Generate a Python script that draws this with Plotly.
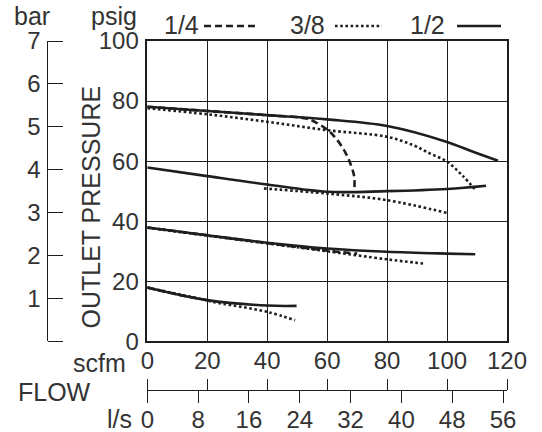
import plotly.graph_objects as go

# ---- data (scfm -> psig) ----
# 1/2 (solid)
half_80_x = [0, 20, 40, 60, 80, 100, 108.7, 117]
half_80_y = [78.1, 76.7, 75.3, 73.9, 71.7, 66.4, 63.1, 60.1]
half_60_x = [0, 20, 40, 60, 80, 100, 113]
half_60_y = [57.9, 55.0, 52.2, 49.8, 50.0, 50.7, 51.8]
half_40_x = [0, 20, 40, 60, 80, 100, 109.4]
half_40_y = [37.9, 35.3, 32.8, 30.9, 29.8, 29.2, 29.0]
half_20_x = [0, 20, 40, 49.8]
half_20_y = [17.9, 13.7, 11.9, 11.8]

# 3/8 (dotted)
three8_80_x = [0, 20, 40, 60, 80, 88.7, 94.2, 100, 105.3, 109.8]
three8_80_y = [77.6, 75.6, 73.1, 70.3, 68.1, 65.3, 62.6, 59.8, 55.0, 50.0]
three8_60_x = [38.9, 60, 80, 99.8]
three8_60_y = [50.9, 49.2, 47.0, 42.8]
three8_40_x = [0, 20, 40, 57.6, 80, 92]
three8_40_y = [37.8, 35.2, 32.6, 30.3, 27.3, 25.9]
three8_20_x = [0, 20, 22, 40, 49.3]
three8_20_y = [17.9, 13.6, 13.1, 9.8, 7.0]

# 1/4 (dashed)
quarter_80_x = [0, 20, 40, 53, 56, 60, 63, 66, 68, 69, 69.1]
quarter_80_y = [78.1, 76.7, 75.3, 74.2, 73.0, 70.5, 67.5, 63.0, 58.5, 55.0, 51.0]
quarter_40_x = [0, 20, 40, 60, 70]
quarter_40_y = [37.9, 35.3, 32.7, 30.2, 29.2]
quarter_20_x = [0, 10, 20]
quarter_20_y = [17.9, 15.6, 13.7]

scfm_ticks = [0, 20, 40, 60, 80, 100, 120]
psig_ticks = [0, 20, 40, 60, 80, 100]
lps_ticks = [0, 8, 16, 24, 32, 40, 48, 56]
bar_ticks = [0, 1, 2, 3, 4, 5, 6, 7]
bar_labels = ["", "1", "2", "3", "4", "5", "6", "7"]
SCFM_TO_LPS = 0.4719
PSIG_MAX = 100
SCFM_MAX = 120
BAR_MAX = 7

# ---- layout geometry (pixels) ----
W, H = 542, 432
ML, MR, MT, MB = 20, 35, 41, 20
PW = W - ML - MR
PH = H - MT - MB


def px(x):
    return (x - ML) / PW


def py(y):
    return (H - MB - y) / PH


FONT = "Liberation Sans, Arial, sans-serif"
TXT = "#333333"
LINE = "#1e1e1e"
FS = 24
FS_T = 25

fig = go.Figure()

styles = {
    "quarter": dict(color=LINE, width=2.6, dash="7px,4px"),
    "three8": dict(color=LINE, width=2.6, dash="2.6px,2.6px"),
    "half": dict(color=LINE, width=2.6),
}

series = [
    ("quarter", quarter_80_x, quarter_80_y),
    ("quarter", quarter_40_x, quarter_40_y),
    ("quarter", quarter_20_x, quarter_20_y),
    ("three8", three8_80_x, three8_80_y),
    ("three8", three8_60_x, three8_60_y),
    ("three8", three8_40_x, three8_40_y),
    ("three8", three8_20_x, three8_20_y),
    ("half", half_80_x, half_80_y),
    ("half", half_60_x, half_60_y),
    ("half", half_40_x, half_40_y),
    ("half", half_20_x, half_20_y),
]
for kind, xs, ys in series:
    fig.add_trace(go.Scatter(x=xs, y=ys, mode="lines", line=styles[kind],
                             line_shape="spline", hoverinfo="skip", showlegend=False))

# helper traces for the extra axes
fig.add_trace(go.Scatter(x=[0, SCFM_MAX], y=[None, None], xaxis="x2", yaxis="y",
                         mode="lines", showlegend=False, hoverinfo="skip"))
fig.add_trace(go.Scatter(x=[0, SCFM_MAX * SCFM_TO_LPS], y=[None, None], xaxis="x3", yaxis="y",
                         mode="lines", showlegend=False, hoverinfo="skip"))
fig.add_trace(go.Scatter(x=[None, None], y=[0, BAR_MAX], xaxis="x", yaxis="y2",
                         mode="lines", showlegend=False, hoverinfo="skip"))
fig.add_trace(go.Scatter(x=[None, None], y=[0, BAR_MAX], xaxis="x", yaxis="y3",
                         mode="lines", showlegend=False, hoverinfo="skip"))

xdom = [px(147.3), 1.0]
ydom = [py(341.3), 1.0]
bottom_pos = py(390)
bar_pos = px(46.7)

tickfont = dict(family=FONT, size=FS, color=TXT)

fig.update_layout(
    width=W, height=H,
    margin=dict(l=ML, r=MR, t=MT, b=MB, autoexpand=False),
    paper_bgcolor="white", plot_bgcolor="white",
    showlegend=False,
    font=dict(family=FONT, size=FS, color=TXT),
    xaxis=dict(domain=xdom, range=[0, SCFM_MAX], tickvals=scfm_ticks, showticklabels=False,
               ticks="", showgrid=True, gridcolor=LINE, gridwidth=1.2, zeroline=False,
               showline=True, mirror=True, linecolor=LINE, linewidth=1.5, anchor="y",
               automargin=False, fixedrange=True),
    yaxis=dict(domain=ydom, range=[0, PSIG_MAX], tickvals=psig_ticks, ticks="",
               showgrid=True, gridcolor=LINE, gridwidth=1.2, zeroline=False,
               showline=True, mirror=True, linecolor=LINE, linewidth=1.5, anchor="x",
               tickfont=tickfont, ticklabelstandoff=2, automargin=False, fixedrange=True),
    xaxis2=dict(overlaying="x", anchor="free", position=bottom_pos, side="top",
                range=[0, SCFM_MAX], tickvals=scfm_ticks, ticks="outside", ticklen=11,
                tickwidth=1.3, tickcolor=LINE, showline=True, linecolor=LINE, linewidth=1.3,
                showgrid=False, zeroline=False, tickfont=tickfont, automargin=False),
    xaxis3=dict(overlaying="x", anchor="free", position=bottom_pos, side="bottom",
                range=[0, SCFM_MAX * SCFM_TO_LPS], tickvals=lps_ticks, ticks="outside",
                ticklen=12, tickwidth=1.3, tickcolor=LINE, showline=True, linecolor=LINE,
                linewidth=1.3, showgrid=False, zeroline=False, tickfont=tickfont,
                ticklabelstandoff=-4, automargin=False),
    # bar scale: ticks pointing right
    yaxis2=dict(overlaying="y", anchor="free", position=bar_pos, side="right",
                range=[0, BAR_MAX], tickvals=bar_ticks, showticklabels=False, ticks="outside",
                ticklen=15, tickwidth=1.3, tickcolor=LINE, showline=True, linecolor=LINE,
                linewidth=1.3, showgrid=False, zeroline=False, automargin=False),
    # bar scale: labels on the left
    yaxis3=dict(overlaying="y", anchor="free", position=bar_pos, side="left",
                range=[0, BAR_MAX], tickvals=bar_ticks, ticktext=bar_labels, ticks="",
                showline=False, showgrid=False, zeroline=False, tickfont=tickfont,
                ticklabelstandoff=6, automargin=False),
)

ann = []


def add_text(text, x, y, xanchor="center", yanchor="middle", angle=0, size=FS_T):
    ann.append(dict(text=text, x=px(x), y=py(y), xref="paper", yref="paper",
                    xanchor=xanchor, yanchor=yanchor, showarrow=False, textangle=angle,
                    font=dict(family=FONT, size=size, color=TXT)))


add_text("bar", 32, 16)
add_text("psig", 113.5, 16)
add_text("1/4", 181.5, 25)
add_text("3/8", 307.5, 25)
add_text("1/2", 427.5, 25)
add_text("OUTLET PRESSURE", 90.5, 207, angle=-90)
add_text("scfm", 128, 363, xanchor="right")
add_text("FLOW", 54, 392)
add_text("l/s", 134, 419, xanchor="right")
fig.update_layout(annotations=ann)

# legend line samples
legend_lines = [
    (204, 255, styles["quarter"]),
    (335, 382, styles["three8"]),
    (457, 501, styles["half"]),
]
for x0, x1, st in legend_lines:
    fig.add_shape(type="line", xref="paper", yref="paper", x0=px(x0), x1=px(x1),
                  y0=py(26), y1=py(26), line=st)

fig.write_html("out.html", config={"displayModeBar": False},
               post_script="document.body.style.margin='0';document.body.style.overflow='hidden';")
